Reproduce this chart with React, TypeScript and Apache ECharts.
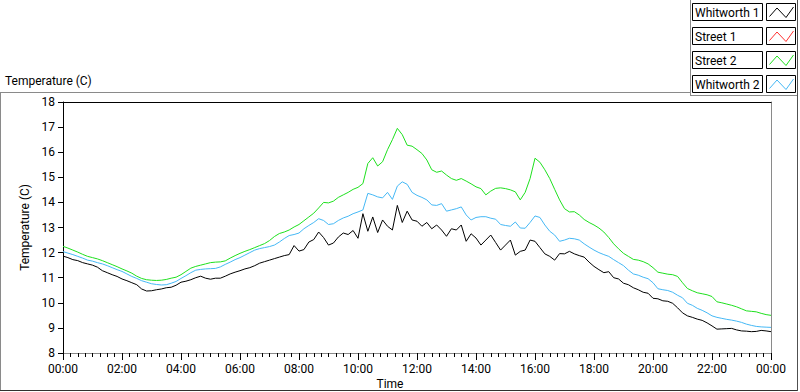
import React, { useEffect, useRef } from "react";
import * as echarts from "echarts";

// Sample times, minutes after midnight, every 10 minutes (00:00 .. 24:00)
const SAMPLE_STEP_MIN = 10;
const SAMPLE_COUNT = 145;
const TIMES: number[] = Array.from({ length: SAMPLE_COUNT }, (_, i) => i * SAMPLE_STEP_MIN);

const SERIES_NAMES = ["Whitworth 1", "Street 1", "Street 2", "Whitworth 2"];
const SERIES_COLORS = ["#000000", "#ff3030", "#1ee01e", "#45b8f5"];

// Whitworth 1 (black)
const WHITWORTH_1: number[] = [
  11.86, 11.8, 11.72, 11.68, 11.6, 11.55,
  11.5, 11.42, 11.28, 11.2, 11.12, 11.05,
  10.95, 10.88, 10.8, 10.72, 10.55, 10.47,
  10.48, 10.52, 10.55, 10.6, 10.62, 10.7,
  10.82, 10.86, 10.92, 11.0, 11.06, 10.98,
  10.94, 10.98, 10.98, 11.06, 11.15, 11.22,
  11.28, 11.35, 11.4, 11.48, 11.58, 11.64,
  11.7, 11.76, 11.82, 11.88, 11.92, 12.28,
  12.06, 12.12, 12.42, 12.52, 12.82, 12.6,
  12.3, 12.38, 12.62, 12.78, 12.72, 12.88,
  12.57, 13.55, 12.85, 13.42, 12.8, 13.3,
  13.05, 12.9, 13.88, 13.2, 13.65, 13.3,
  13.25, 13.05, 13.2, 12.95, 13.1, 12.9,
  12.65, 12.95, 12.9, 13.1, 12.45, 12.75,
  12.58, 12.3, 12.5, 12.7, 12.4, 12.1,
  12.3, 12.5, 11.9, 12.05, 12.1, 12.5,
  12.45, 12.2, 11.95, 11.85, 11.7, 11.96,
  11.95, 12.05, 11.95, 11.88, 11.82, 11.62,
  11.45, 11.32, 11.2, 11.24, 11.0, 10.95,
  10.78, 10.72, 10.6, 10.52, 10.42, 10.38,
  10.18, 10.16, 10.08, 10.06, 9.98, 9.8,
  9.6, 9.48, 9.42, 9.35, 9.3, 9.2,
  9.08, 8.95, 8.96, 8.97, 8.98, 8.92,
  8.88, 8.87, 8.85, 8.86, 8.9, 8.88,
  8.85,
];

// Street 1 (red) - no visible data in the plot
const STREET_1: number[] = [];

// Street 2 (green)
const STREET_2: number[] = [
  12.25, 12.18, 12.1, 12.02, 11.93, 11.85,
  11.8, 11.75, 11.68, 11.6, 11.52, 11.44,
  11.35, 11.27, 11.18, 11.06, 10.97, 10.92,
  10.9, 10.89, 10.9, 10.93, 10.98, 11.02,
  11.12, 11.25, 11.38, 11.45, 11.5, 11.55,
  11.6, 11.62, 11.63, 11.67, 11.78, 11.88,
  11.97, 12.05, 12.12, 12.2, 12.28, 12.36,
  12.48, 12.64, 12.76, 12.82, 12.9, 13.02,
  13.12, 13.27, 13.42, 13.57, 13.78, 14.0,
  13.98, 14.05, 14.2, 14.3, 14.4, 14.52,
  14.6, 14.75, 15.55, 15.78, 15.45, 15.62,
  16.1, 16.5, 16.95, 16.7, 16.28, 16.24,
  16.1, 15.95, 15.69, 15.3, 15.2, 15.25,
  15.09, 14.95, 14.88, 14.95, 14.85, 14.74,
  14.62, 14.55, 14.3, 14.45, 14.56, 14.58,
  14.55, 14.5, 14.42, 14.1, 14.4, 14.95,
  15.76, 15.6, 15.3, 14.95, 14.52, 14.1,
  13.75, 13.62, 13.63, 13.5, 13.32, 13.2,
  13.1, 12.98, 12.82, 12.6, 12.35, 12.15,
  11.97, 11.85, 11.73, 11.7, 11.64, 11.55,
  11.4, 11.22, 11.18, 11.14, 11.12, 11.05,
  10.8, 10.57, 10.48, 10.4, 10.36, 10.32,
  10.25, 10.04, 10.0, 9.95, 9.9, 9.84,
  9.76, 9.68, 9.66, 9.64, 9.58, 9.53,
  9.5,
];

// Whitworth 2 (light blue)
const WHITWORTH_2: number[] = [
  12.04, 11.98, 11.92, 11.85, 11.78, 11.7,
  11.66, 11.6, 11.55, 11.48, 11.4, 11.32,
  11.25, 11.15, 11.05, 10.97, 10.88, 10.82,
  10.76, 10.73, 10.71, 10.72, 10.78, 10.85,
  10.97, 11.08, 11.2, 11.3, 11.33, 11.35,
  11.36, 11.37, 11.43, 11.53, 11.62, 11.72,
  11.8, 11.9, 12.0, 12.1, 12.16, 12.2,
  12.24, 12.3, 12.42, 12.56, 12.68, 12.72,
  12.78, 12.95, 13.08, 13.2, 13.35, 13.28,
  13.12, 13.15, 13.28, 13.38, 13.45, 13.55,
  13.62, 13.7, 14.36, 14.3, 14.22, 14.18,
  14.4, 14.12, 14.65, 14.82, 14.72, 14.4,
  14.28, 14.2, 14.1, 13.9, 13.88, 13.95,
  13.65, 13.7, 13.75, 13.82, 13.5, 13.3,
  13.4, 13.43, 13.43, 13.37, 13.33, 13.12,
  13.08, 13.05, 13.22, 12.98, 12.97, 13.2,
  13.46, 13.4, 13.1, 12.85, 12.7, 12.45,
  12.5, 12.57, 12.55, 12.5, 12.35, 12.22,
  12.1, 12.0, 11.92, 11.85, 11.72, 11.6,
  11.48, 11.3, 11.15, 11.1, 11.02, 10.96,
  10.8, 10.56, 10.52, 10.49, 10.42, 10.3,
  10.2, 9.98, 9.9, 9.78, 9.7, 9.6,
  9.48, 9.42, 9.38, 9.34, 9.31, 9.27,
  9.22, 9.15, 9.1, 9.06, 9.04, 9.03,
  9.02,
];

const SERIES_VALUES = [WHITWORTH_1, STREET_1, STREET_2, WHITWORTH_2];

const Y_MIN = 8;
const Y_MAX = 18;
const X_MIN = 0;
const X_MAX = 1440;
const X_INTERVAL = 120;

const FONT = "Roboto, 'Liberation Sans', Arial, sans-serif";

function fmtTime(v: number): string {
  const h = Math.round(v / 60) % 24;
  return (h < 10 ? "0" : "") + h + ":00";
}

export default function App() {
  const ref = useRef<HTMLDivElement>(null);

  useEffect(() => {
    if (!ref.current) return;
    const chart = echarts.init(ref.current, undefined, { renderer: "svg" });

    const legendGraphics: any[] = [];
    SERIES_NAMES.forEach((name, i) => {
      const y0 = 3.5 + i * 24;
      legendGraphics.push({
        type: "rect",
        shape: { x: 692.5, y: y0, width: 70, height: 17 },
        style: { fill: "#fff", stroke: "#000", lineWidth: 1 },
        z: 10,
      });
      legendGraphics.push({
        type: "text",
        x: 695,
        y: y0 + 9,
        style: {
          text: name,
          fill: "#000",
          font: `12px ${FONT}`,
          verticalAlign: "middle",
          align: "left",
        },
        z: 11,
      });
      legendGraphics.push({
        type: "rect",
        shape: { x: 766.5, y: y0, width: 29, height: 17 },
        style: { fill: "#fff", stroke: "#000", lineWidth: 1 },
        z: 10,
      });
      legendGraphics.push({
        type: "polyline",
        shape: {
          points: [
            [769.5, y0 + 13],
            [777, y0 + 4.5],
            [786, y0 + 14],
            [793.5, y0 + 3.5],
          ],
        },
        style: { stroke: SERIES_COLORS[i], lineWidth: 1, fill: null },
        z: 11,
      });
    });

    const frameGraphics: any[] = [
      // outer panel frame
      { type: "line", shape: { x1: 0, y1: 92.5, x2: 690, y2: 92.5 }, style: { stroke: "#8a8a8a", lineWidth: 1 } },
      { type: "line", shape: { x1: 0.5, y1: 92, x2: 0.5, y2: 391 }, style: { stroke: "#8a8a8a", lineWidth: 1 } },
      { type: "line", shape: { x1: 0, y1: 390.5, x2: 798, y2: 390.5 }, style: { stroke: "#303030", lineWidth: 1 } },
      { type: "line", shape: { x1: 797.5, y1: 0, x2: 797.5, y2: 391 }, style: { stroke: "#505050", lineWidth: 1 } },
      // legend panel
      { type: "line", shape: { x1: 690.5, y1: 0, x2: 690.5, y2: 95.5 }, style: { stroke: "#8a8a8a", lineWidth: 1 } },
      { type: "line", shape: { x1: 690, y1: 95.5, x2: 797, y2: 95.5 }, style: { stroke: "#8a8a8a", lineWidth: 1 } },
      // titles
      {
        type: "text",
        x: 5,
        y: 81,
        style: { text: "Temperature (C)", fill: "#000", font: `12px ${FONT}`, verticalAlign: "middle" },
      },
      {
        type: "text",
        x: 390,
        y: 384,
        style: { text: "Time", fill: "#000", font: `12px ${FONT}`, verticalAlign: "middle", align: "center" },
      },
    ];

    chart.setOption({
      animation: false,
      backgroundColor: "#ffffff",
      grid: { left: 63, top: 102, width: 708, height: 251, containLabel: false },
      xAxis: [
        {
          type: "value",
          min: X_MIN,
          max: X_MAX,
          interval: X_INTERVAL,
          position: "bottom",
          axisLine: { show: true, onZero: false, lineStyle: { color: "#8a8a8a", width: 1 } },
          axisTick: { show: true, length: 7, lineStyle: { color: "#000" } },
          minorTick: { show: true, splitNumber: 8, length: 4, lineStyle: { color: "#000" } },
          splitLine: { show: false },
          axisLabel: {
            show: true,
            margin: 10,
            color: "#000",
            fontFamily: FONT,
            fontSize: 12,
            showMinLabel: true,
            showMaxLabel: true,
            formatter: (v: number) => fmtTime(v),
          },
        },
        {
          type: "value",
          min: X_MIN,
          max: X_MAX,
          position: "top",
          axisLine: { show: true, onZero: false, lineStyle: { color: "#000", width: 1 } },
          axisTick: { show: false },
          axisLabel: { show: false },
          splitLine: { show: false },
        },
      ],
      yAxis: [
        {
          type: "value",
          min: Y_MIN,
          max: Y_MAX,
          interval: 1,
          position: "left",
          name: "Temperature (C)",
          nameLocation: "middle",
          nameGap: 23,
          nameTextStyle: { color: "#000", fontFamily: FONT, fontSize: 12 },
          axisLine: { show: true, onZero: false, lineStyle: { color: "#000", width: 1 } },
          axisTick: { show: true, length: 5, lineStyle: { color: "#000" } },
          splitLine: { show: false },
          axisLabel: { margin: 8, color: "#000", fontFamily: FONT, fontSize: 12 },
        },
        {
          type: "value",
          min: Y_MIN,
          max: Y_MAX,
          position: "right",
          axisLine: { show: true, onZero: false, lineStyle: { color: "#8a8a8a", width: 1 } },
          axisTick: { show: false },
          axisLabel: { show: false },
          splitLine: { show: false },
        },
      ],
      series: SERIES_NAMES.map((name, i) => ({
        name,
        type: "line",
        xAxisIndex: 0,
        yAxisIndex: 0,
        showSymbol: false,
        symbol: "none",
        silent: true,
        lineStyle: { color: SERIES_COLORS[i], width: 1 },
        itemStyle: { color: SERIES_COLORS[i] },
        data: SERIES_VALUES[i].map((v, k) => [TIMES[k], v]),
      })),
      graphic: [...frameGraphics, ...legendGraphics],
    });

    return () => {
      chart.dispose();
    };
  }, []);

  return (
    <div
      ref={ref}
      style={{ position: "fixed", left: 0, top: 0, width: 800, height: 392, background: "#fff" }}
    />
  );
}
